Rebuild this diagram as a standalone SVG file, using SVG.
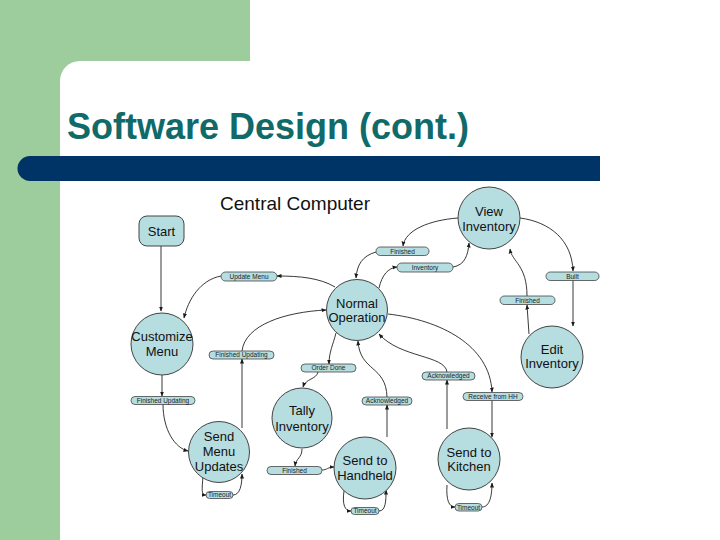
<svg xmlns="http://www.w3.org/2000/svg" width="720" height="540" viewBox="0 0 720 540">
<defs>
<marker id="ah" viewBox="0 0 10 10" refX="9" refY="5" markerWidth="5" markerHeight="5" markerUnits="userSpaceOnUse" orient="auto"><path d="M0,1 L10,5 L0,9 z" fill="#1a1a1a"/></marker>
<style>
.node{fill:#b6dde0;stroke:#444;stroke-width:1}
.pill{fill:#b6dde0;stroke:#444;stroke-width:0.8}
.nt{font-family:"Liberation Sans",Arial,sans-serif;font-size:13px;fill:#111;text-anchor:middle}
.pt{font-family:"Liberation Sans",Arial,sans-serif;font-size:6.5px;fill:#222;text-anchor:middle}
.e{fill:none;stroke:#222;stroke-width:0.9;marker-end:url(#ah)}
</style>
</defs>
<rect x="0" y="0" width="720" height="540" fill="#ffffff"/>
<rect x="0" y="0" width="250" height="90" fill="#9dcc9d"/>
<rect x="0" y="0" width="60" height="540" fill="#9dcc9d"/>
<path d="M60,540 L60,81 A20,20 0 0 1 80,61 L720,61 L720,540 Z" fill="#ffffff"/>
<path d="M30,156 L600,156 L600,181 L30,181 A12.5,12.5 0 0 1 30,156 Z" fill="#003366"/>
<text x="67" y="139" font-family="'Liberation Sans',Arial,sans-serif" font-size="36" font-weight="bold" fill="#106a6a">Software Design (cont.)</text>
<text x="295" y="210" font-family="'Liberation Sans',Arial,sans-serif" font-size="19" fill="#111" text-anchor="middle">Central Computer</text>

<g id="connectors">
<path class="e" d="M161,246 L161,311"/>
<path class="e" d="M335,287 C320,278 300,276 277,276"/>
<path class="e" d="M221,276 C200,280 188,300 184,318"/>
<path class="e" d="M458,218 C430,220 405,230 403,246"/>
<path class="e" d="M376,252 C362,256 357,265 356,278"/>
<path class="e" d="M379,288 C382,275 388,268 397,267"/>
<path class="e" d="M453,267 C465,265 468,255 469,243"/>
<path class="e" d="M520,218 C550,222 572,240 573,271"/>
<path class="e" d="M573,280 L573,326"/>
<path class="e" d="M529,334 L527,305"/>
<path class="e" d="M527,296 C527,265 512,262 510,249"/>
<path class="e" d="M162,375 L162,396"/>
<path class="e" d="M163,404 C163,430 175,448 188,451"/>
<path class="e" d="M242,428 L242,359"/>
<path class="e" d="M242,351 C245,325 285,312 326,310"/>
<path class="e" d="M336,333 C333,345 329,352 329,364"/>
<path class="e" d="M318,372 C316,380 306,378 303,387"/>
<path class="e" d="M302,449 C302,458 296,458 295,466"/>
<path class="e" d="M322,470 C327,470 328,467 334,467"/>
<path class="e" d="M387,437 L387,405"/>
<path class="e" d="M387,397 C386,365 360,372 358,341"/>
<path class="e" d="M447,429 L447,380"/>
<path class="e" d="M447,372 C445,355 400,358 379,334"/>
<path class="e" d="M388,314 C440,320 490,345 492,392"/>
<path class="e" d="M492,400 L492,437"/>
<path class="e" d="M203,476 C202,490 201,495 206,495"/>
<path class="e" d="M233,495 C240,495 242,485 242,474"/>
<path class="e" d="M344,491 C342,505 345,511 351,511"/>
<path class="e" d="M379,511 C386,511 386,500 386,490"/>
<path class="e" d="M447,485 C446,500 449,507 455,507"/>
<path class="e" d="M482,507 C490,507 492,495 492,483"/>
</g>

<g id="start"><rect class="node" x="139" y="216" width="45" height="30" rx="8"/><text class="nt" x="161.5" y="236">Start</text></g>
<g id="view-inventory"><circle class="node" cx="489" cy="218" r="31"/><text class="nt" x="489" y="216">View</text><text class="nt" x="489" y="231">Inventory</text></g>
<g id="normal-operation"><circle class="node" cx="357" cy="310" r="30.5"/><text class="nt" x="357" y="308">Normal</text><text class="nt" x="357" y="322">Operation</text></g>
<g id="customize-menu"><circle class="node" cx="162" cy="344" r="31"/><text class="nt" x="162" y="341">Customize</text><text class="nt" x="162" y="356">Menu</text></g>
<g id="edit-inventory"><circle class="node" cx="552" cy="357" r="31"/><text class="nt" x="552" y="354">Edit</text><text class="nt" x="552" y="368">Inventory</text></g>
<g id="tally-inventory"><circle class="node" cx="302" cy="418" r="30"/><text class="nt" x="302" y="415">Tally</text><text class="nt" x="302" y="431">Inventory</text></g>
<g id="send-menu-updates"><circle class="node" cx="219" cy="452" r="30.5"/><text class="nt" x="219" y="441">Send</text><text class="nt" x="219" y="456">Menu</text><text class="nt" x="219" y="471">Updates</text></g>
<g id="send-to-handheld"><circle class="node" cx="365" cy="468" r="31"/><text class="nt" x="365" y="465">Send to</text><text class="nt" x="365" y="480">Handheld</text></g>
<g id="send-to-kitchen"><circle class="node" cx="469" cy="459" r="31"/><text class="nt" x="469" y="457">Send to</text><text class="nt" x="469" y="471">Kitchen</text></g>

<g id="lbl-update-menu"><rect class="pill" x="221" y="272" width="56" height="9" rx="4.5"/><text class="pt" x="249" y="278.8">Update Menu</text></g>
<g id="lbl-finished-vi"><rect class="pill" x="376" y="247" width="53" height="8.5" rx="4.2"/><text class="pt" x="402.5" y="253.5">Finished</text></g>
<g id="lbl-inventory"><rect class="pill" x="397" y="263" width="56" height="9" rx="4.5"/><text class="pt" x="425" y="269.8">Inventory</text></g>
<g id="lbl-built"><rect class="pill" x="546" y="272" width="53" height="8.5" rx="4.2"/><text class="pt" x="572.5" y="278.5">Built</text></g>
<g id="lbl-finished-ei"><rect class="pill" x="500" y="296" width="55" height="8.5" rx="4.2"/><text class="pt" x="527.5" y="302.5">Finished</text></g>
<g id="lbl-finished-updating-top"><rect class="pill" x="209" y="351" width="65" height="8" rx="4"/><text class="pt" x="241.5" y="357.3">Finished Updating</text></g>
<g id="lbl-order-done"><rect class="pill" x="301" y="364" width="55" height="8" rx="4"/><text class="pt" x="328.5" y="370.3">Order Done</text></g>
<g id="lbl-ack-right"><rect class="pill" x="422" y="372" width="53" height="8" rx="4"/><text class="pt" x="448.5" y="378.3">Acknowledged</text></g>
<g id="lbl-receive"><rect class="pill" x="463" y="392.5" width="60" height="8" rx="4"/><text class="pt" x="493" y="398.8">Receive from HH</text></g>
<g id="lbl-ack-mid"><rect class="pill" x="362" y="397" width="50" height="8" rx="4"/><text class="pt" x="387" y="403.3">Acknowledged</text></g>
<g id="lbl-finished-updating-left"><rect class="pill" x="131" y="396.5" width="64" height="8" rx="4"/><text class="pt" x="163" y="402.8">Finished Updating</text></g>
<g id="lbl-finished-tally"><rect class="pill" x="267" y="466.5" width="55" height="8" rx="4"/><text class="pt" x="294.5" y="472.8">Finished</text></g>
<g id="lbl-timeout-smu"><rect class="pill" x="206" y="491.5" width="27" height="7" rx="3.5"/><text class="pt" x="219.5" y="497.3">Timeout</text></g>
<g id="lbl-timeout-sh"><rect class="pill" x="351" y="507.5" width="28" height="7" rx="3.5"/><text class="pt" x="365" y="513.3">Timeout</text></g>
<g id="lbl-timeout-sk"><rect class="pill" x="455" y="503.5" width="27" height="7.5" rx="3.7"/><text class="pt" x="468.5" y="509.5">Timeout</text></g>
</svg>
